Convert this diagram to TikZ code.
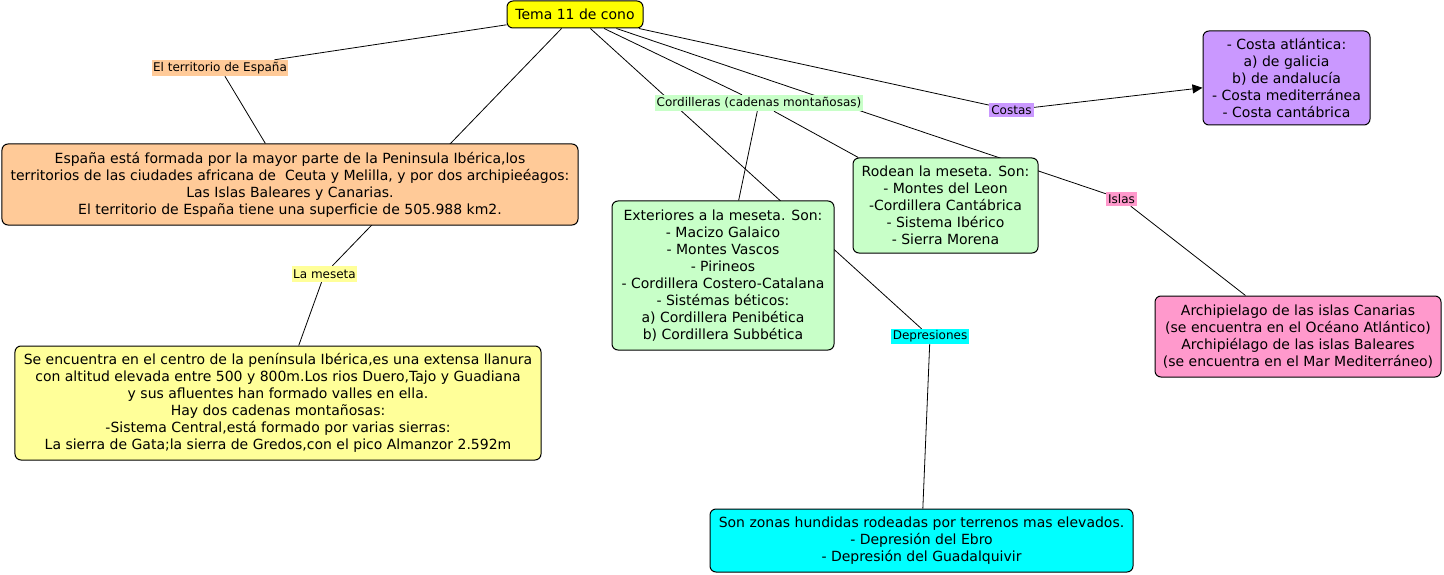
\documentclass[tikz,border=0pt]{standalone}
\usepackage{fontspec}
\setmainfont{DejaVu Sans}
\usetikzlibrary{arrows.meta,backgrounds}
\definecolor{cmyellow}{RGB}{255,255,0}
\definecolor{cmorange}{RGB}{255,202,152}
\definecolor{cmpale}{RGB}{255,255,153}
\definecolor{cmgreen}{RGB}{200,255,200}
\definecolor{cmpurple}{RGB}{202,152,255}
\definecolor{cmpink}{RGB}{255,153,204}
\definecolor{cmcyan}{RGB}{0,255,255}
\begin{document}
\begin{tikzpicture}[x=1bp, y=-1bp,
  concept/.style={draw, line width=1bp, rounded corners=6bp, align=center, inner sep=0pt,
    font=\fontsize{14bp}{17bp}\selectfont},
  linkphrase/.style={align=center, inner sep=0pt,
    font=\fontsize{12bp}{14bp}\selectfont},
  link/.style={line width=0.8bp}]
\useasboundingbox (0,0) rectangle (1444,575);
% concepts and linking phrases
\node[concept, fill=cmyellow, minimum width=136bp, minimum height=27bp] (root) at (575,14.5) {Tema 11 de cono};
\node[linkphrase, fill=cmorange, minimum width=136bp, minimum height=16bp] (terr) at (220,68) {El territorio de España};
\node[concept, fill=cmorange, minimum width=576bp, minimum height=81bp] (espana) at (290,184.5)
  {España está formada por la mayor parte de la Peninsula Ibérica,los\\
   territorios de las ciudades africana de\ \ Ceuta y Melilla, y por dos archipieéagos:\\
   Las Islas Baleares y Canarias.\\
   El territorio de España tiene una superficie de 505.988 km2.};
\node[linkphrase, fill=cmpale, minimum width=65bp, minimum height=16bp] (meseta) at (324.5,274) {La meseta};
\node[concept, fill=cmpale, minimum width=526bp, minimum height=114bp] (mesetabox) at (278,403)
  {Se encuentra en el centro de la península Ibérica,es una extensa llanura\\
   con altitud elevada entre 500 y 800m.Los rios Duero,Tajo y Guadiana\\
   y sus afluentes han formado valles en ella.\\
   Hay dos cadenas montañosas:\\
   -Sistema Central,está formado por varias sierras:\\
   La sierra de Gata;la sierra de Gredos,con el pico Almanzor 2.592m};
\node[linkphrase, fill=cmgreen, minimum width=208bp, minimum height=16bp] (cord) at (759,103) {Cordilleras (cadenas montañosas)};
\node[concept, fill=cmgreen, minimum width=222bp, minimum height=149bp] (ext) at (723,275.5)
  {Exteriores a la meseta. Son:\\ - Macizo Galaico\\ - Montes Vascos\\ - Pirineos\\
   - Cordillera Costero-Catalana\\ - Sistémas béticos:\\ a) Cordillera Penibética\\ b) Cordillera Subbética};
\node[concept, fill=cmgreen, minimum width=185bp, minimum height=95bp] (rodean) at (945.5,205.5)
  {Rodean la meseta. Son:\\ - Montes del Leon\\ -Cordillera Cantábrica\\ - Sistema Ibérico\\ - Sierra Morena};
\node[linkphrase, fill=cmpurple, minimum width=45bp, minimum height=14bp] (costas) at (1011.5,110) {Costas};
\node[concept, fill=cmpurple, minimum width=167bp, minimum height=94bp] (costasbox) at (1286.5,78)
  {- Costa atlántica:\\ a) de galicia\\ b) de andalucía\\ - Costa mediterránea\\ - Costa cantábrica};
\node[linkphrase, fill=cmpink, minimum width=31bp, minimum height=14bp] (islas) at (1121.5,199) {Islas};
\node[concept, fill=cmpink, minimum width=286bp, minimum height=81bp] (islasbox) at (1298,336.5)
  {Archipielago de las islas Canarias\\ (se encuentra en el Océano Atlántico)\\
   Archipiélago de las islas Baleares\\ (se encuentra en el Mar Mediterráneo)};
\node[linkphrase, fill=cmcyan, minimum width=78bp, minimum height=15bp] (depr) at (930,336.5) {Depresiones};
\node[concept, fill=cmcyan, minimum width=423bp, minimum height=63bp] (deprbox) at (921.5,540.5)
  {Son zonas hundidas rodeadas por terrenos mas elevados.\\ - Depresión del Ebro\\ - Depresión del Guadalquivir};
% links, behind the boxes
\begin{pgfonlayer}{background}
\draw[link] (root) -- (terr);
\draw[link] (terr) -- (espana);
\draw[link] (root) -- (meseta);
\draw[link] (meseta) -- (mesetabox);
\draw[link] (root) -- (cord);
\draw[link] (cord) -- (ext);
\draw[link] (cord) -- (rodean);
\draw[link] (root) -- (depr);
\draw[link] (depr) -- (deprbox);
\draw[link] (root) -- (costas);
\draw[link, -{Triangle[length=10bp, width=9bp]}] (costas) -- (costasbox);
\draw[link] (root) -- (islas);
\draw[link] (islas) -- (islasbox);
\end{pgfonlayer}
\end{tikzpicture}
\end{document}
